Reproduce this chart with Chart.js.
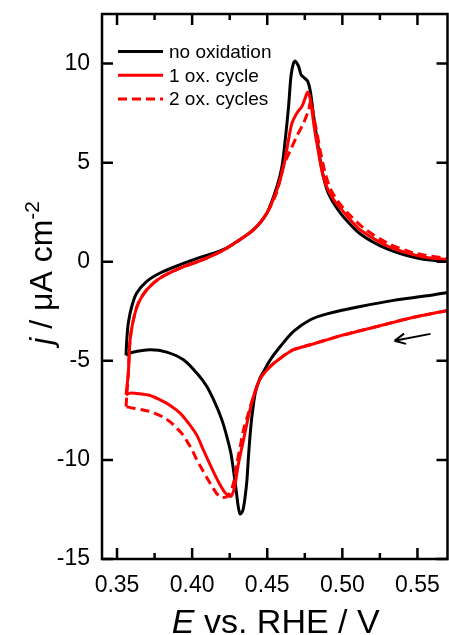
<!DOCTYPE html>
<html>
<head>
<meta charset="utf-8">
<script src="https://cdn.jsdelivr.net/npm/chart.js@4.4.1/dist/chart.umd.min.js"></script>
<style>
  html, body { margin: 0; padding: 0; background: #fff; overflow: hidden; }
  canvas { display: block; }
</style>
</head>
<body>
<canvas id="cvChart" width="449" height="635"></canvas>
<script>
// values: E in V vs. RHE, j in uA cm-2
// each loop: anodic sweep, null (turn outside the window), cathodic sweep
const seriesNames = ['no oxidation', '1 ox. cycle', '2 ox. cycles'];

const eNoOx = [0.356, 0.3565, 0.3575, 0.3598, 0.3631, 0.3698, 0.3787, 0.392, 0.4053, 0.4187,
  0.4275, 0.4409, 0.4498, 0.4565, 0.4598, 0.462, 0.4642, 0.4658, 0.4675, 0.4687,
  0.4709, 0.4725, 0.4747, 0.4769, 0.4787, 0.4809, 0.4825, 0.4842, 0.4858, 0.4875,
  0.4895, 0.492, 0.4955, 0.5009, 0.512, 0.5298, 0.552, 0.57,
  null,
  0.57, 0.5565, 0.5342, 0.512, 0.4898, 0.4787, 0.4675, 0.4587, 0.452, 0.4475,
  0.4453, 0.442, 0.4398, 0.4387, 0.4375, 0.4365, 0.4353, 0.4338, 0.432, 0.4307,
  0.4293, 0.4275, 0.4258, 0.4231, 0.4198, 0.4153, 0.4098, 0.4031, 0.3942, 0.3831,
  0.372, 0.3598, 0.356];
const jNoOx = [-4.72, -3.94, -3.10, -2.26, -1.58, -0.99, -0.57, -0.15, 0.22, 0.55,
  0.90, 1.62, 2.46, 3.80, 4.81, 6.16, 7.84, 9.36, 10.03, 10.12,
  9.86, 9.44, 9.28, 9.11, 8.60, 7.34, 6.50, 5.66, 4.90, 4.25,
  3.70, 3.25, 2.80, 2.25, 1.40, 0.65, 0.15, 0.02,
  null,
  -1.55, -1.72, -1.95, -2.26, -2.63, -2.93, -3.52, -4.28, -4.95, -5.55,
  -5.85, -6.63, -7.81, -8.65, -9.83, -11.01, -11.85, -12.53, -12.73, -12.36,
  -11.52, -10.51, -9.66, -8.82, -7.98, -7.14, -6.30, -5.62, -4.95, -4.56,
  -4.44, -4.58, -4.72];

const eOx1 = [0.356, 0.3575, 0.3587, 0.3609, 0.3642, 0.3698, 0.3787, 0.392, 0.4053, 0.4187,
  0.4275, 0.4409, 0.4498, 0.4565, 0.4609, 0.4642, 0.4665, 0.4698, 0.4731, 0.4753,
  0.4769, 0.4787, 0.4809, 0.4825, 0.4842, 0.4858, 0.4875, 0.4895, 0.492, 0.4955,
  0.4987, 0.506, 0.512, 0.5298, 0.552, 0.57,
  null,
  0.57, 0.5453, 0.5231, 0.5009, 0.4787, 0.4675, 0.4587, 0.452, 0.4453, 0.4409,
  0.4375, 0.4342, 0.4309, 0.4287, 0.4271, 0.4253, 0.4225, 0.4209, 0.4175, 0.4142,
  0.4108, 0.4075, 0.4031, 0.3976, 0.392, 0.3854, 0.3787, 0.372, 0.365, 0.3587,
  0.356];
const jOx1 = [-6.72, -5.62, -3.94, -2.93, -2.09, -1.41, -0.82, -0.32, 0.05, 0.50,
  0.90, 1.62, 2.46, 3.64, 4.81, 6.16, 7.00, 7.51, 7.84, 8.27,
  8.55, 8.18, 7.00, 6.20, 5.49, 4.80, 4.25, 3.80, 3.40, 3.00,
  2.70, 2.05, 1.60, 0.80, 0.27, 0.10,
  null,
  -2.46, -2.84, -3.27, -3.69, -4.19, -4.44, -4.87, -5.29, -5.90, -6.80,
  -7.81, -8.99, -10.17, -11.18, -11.68, -11.85, -11.70, -11.55, -11.10, -10.60,
  -10.05, -9.50, -8.75, -8.15, -7.64, -7.25, -6.97, -6.75, -6.66, -6.63,
  -6.72];

const eOx2 = [0.356, 0.3575, 0.3587, 0.3609, 0.3642, 0.3698, 0.3787, 0.392, 0.4053, 0.4187,
  0.4275, 0.4409, 0.4498, 0.4565, 0.4609, 0.4653, 0.4698, 0.4742, 0.4775, 0.479,
  0.481, 0.4831, 0.4848, 0.4865, 0.4885, 0.4909, 0.494, 0.4975, 0.5031, 0.5142,
  0.5298, 0.5475, 0.57,
  null,
  0.57, 0.5453, 0.5231, 0.5009, 0.4787, 0.4675, 0.4587, 0.452, 0.4453, 0.4409,
  0.4375, 0.4342, 0.432, 0.4298, 0.4275, 0.424, 0.42, 0.4164, 0.4142, 0.4098,
  0.4053, 0.4031, 0.40, 0.3965, 0.3935, 0.3898, 0.3854, 0.3809, 0.3742, 0.3698,
  0.3609, 0.356];
const jOx2 = [-7.31, -5.62, -3.94, -2.93, -2.09, -1.41, -0.82, -0.32, 0.05, 0.50,
  0.90, 1.62, 2.46, 3.55, 4.85, 5.60, 6.35, 7.00, 7.65, 8.10,
  7.30, 6.50, 5.80, 5.15, 4.50, 3.90, 3.40, 3.00, 2.50, 1.70,
  0.95, 0.45, 0.15,
  null,
  -2.46, -2.84, -3.27, -3.69, -4.19, -4.44, -4.87, -5.29, -5.90, -6.80,
  -7.64, -8.48, -9.33, -10.17, -11.18, -11.80, -11.90, -11.70, -11.45, -10.90,
  -10.30, -10.00, -9.50, -9.05, -8.70, -8.40, -8.08, -7.85, -7.62, -7.52,
  -7.39, -7.31];

const xTicks = [0.35, 0.40, 0.45, 0.50, 0.55];
const xMinor = [0.375, 0.425, 0.475, 0.525];
const yTicks = [-15, -10, -5, 0, 5, 10];

// sweep direction arrow, tail then head
const arrowE = [0.5587, 0.5347];
const arrowJ = [-3.64, -3.99];

const FONT = '"Liberation Sans", Arial, sans-serif';
Chart.defaults.font.family = FONT;
Chart.defaults.color = '#000';

const toXY = (e, j) => e.map((v, i) => ({ x: v, y: j[i] }));

// draws text made of pieces (italic / superscript) centred on cx
function richText(ctx, parts, size, cx, cy) {
  const fontOf = p => (p.it ? 'italic ' : '') + (p.sup ? size * 0.65 : size) + 'px ' + FONT;
  let total = 0;
  parts.forEach(p => { ctx.font = fontOf(p); p.w = ctx.measureText(p.t).width; total += p.w; });
  let x = cx - total / 2;
  parts.forEach(p => {
    ctx.font = fontOf(p);
    ctx.fillText(p.t, x, cy + (p.sup ? -size * 0.4 : 0));
    x += p.w;
  });
}

const decor = {
  id: 'decor',
  afterDraw(chart) {
    const { ctx, chartArea: a } = chart;
    const sx = chart.scales.x, sy = chart.scales.y;
    ctx.save();

    // frame + inward ticks on all four sides
    ctx.strokeStyle = '#000';
    ctx.lineWidth = 2.5;
    ctx.strokeRect(a.left, a.top, a.right - a.left, a.bottom - a.top);
    ctx.beginPath();
    const xt = (v, len) => {
      const px = sx.getPixelForValue(v);
      ctx.moveTo(px, a.bottom); ctx.lineTo(px, a.bottom - len);
      ctx.moveTo(px, a.top); ctx.lineTo(px, a.top + len);
    };
    xTicks.forEach(v => xt(v, 11));
    xMinor.forEach(v => xt(v, 6));
    yTicks.forEach(v => {
      const py = sy.getPixelForValue(v);
      ctx.moveTo(a.left, py); ctx.lineTo(a.left + 11, py);
      ctx.moveTo(a.right, py); ctx.lineTo(a.right - 11, py);
    });
    ctx.stroke();

    // legend inside the plot, top left
    ctx.font = '19px ' + FONT;
    ctx.textBaseline = 'middle';
    ctx.fillStyle = '#000';
    chart.data.datasets.forEach((ds, i) => {
      const ly = a.top + 37.5 + i * 23.8;
      ctx.beginPath();
      ctx.setLineDash(ds.borderDash || []);
      ctx.strokeStyle = ds.borderColor;
      ctx.lineWidth = 3;
      ctx.moveTo(a.left + 16, ly);
      ctx.lineTo(a.left + 61, ly);
      ctx.stroke();
      ctx.setLineDash([]);
      ctx.fillText(ds.label, a.left + 67, ly + 1);
    });

    // arrow
    const x0 = sx.getPixelForValue(arrowE[0]), y0 = sy.getPixelForValue(arrowJ[0]);
    const x1 = sx.getPixelForValue(arrowE[1]), y1 = sy.getPixelForValue(arrowJ[1]);
    const ang = Math.atan2(y1 - y0, x1 - x0);
    ctx.strokeStyle = '#000';
    ctx.lineWidth = 2;
    ctx.beginPath();
    ctx.moveTo(x0, y0); ctx.lineTo(x1, y1);
    [-1, 1].forEach(s => {
      ctx.moveTo(x1, y1);
      ctx.lineTo(x1 - 12 * Math.cos(ang + s * 0.45), y1 - 12 * Math.sin(ang + s * 0.45));
    });
    ctx.stroke();

    // axis titles
    ctx.textBaseline = 'alphabetic';
    ctx.textAlign = 'left';
    richText(ctx, [{ t: 'E', it: true }, { t: ' vs. RHE / V' }], 34, (a.left + a.right) / 2 + 1, a.bottom + 74);
    ctx.translate(52, a.top + 259);
    ctx.rotate(-Math.PI / 2);
    richText(ctx, [{ t: 'j', it: true }, { t: ' / \u03bcA cm' }, { t: '-2', sup: true }], 32, 0, 0);
    ctx.restore();
  }
};

new Chart(document.getElementById('cvChart'), {
  type: 'scatter',
  data: {
    datasets: [
      { label: seriesNames[0], data: toXY(eNoOx, jNoOx), borderColor: '#000000', order: 3 },
      { label: seriesNames[1], data: toXY(eOx1, jOx1), borderColor: '#ff0000', order: 2 },
      { label: seriesNames[2], data: toXY(eOx2, jOx2), borderColor: '#ff0000', borderDash: [9, 5], order: 1 }
    ].map(d => Object.assign(d, { showLine: true, pointRadius: 0, borderWidth: 3, tension: 0.3, fill: false }))
  },
  options: {
    responsive: false,
    animation: false,
    devicePixelRatio: 1,
    layout: { padding: { top: 14, right: 1.5, left: 0, bottom: 0 } },
    plugins: { legend: { display: false }, tooltip: { enabled: false } },
    scales: {
      x: {
        type: 'linear', min: 0.34, max: 0.57,
        grid: { display: false, drawTicks: false },
        border: { display: false },
        afterBuildTicks: s => { s.ticks = xTicks.map(v => ({ value: v })); },
        afterFit: s => { s.height = 76; s.paddingLeft = 0; s.paddingRight = 0; },
        ticks: { padding: 13, font: { size: 23 }, autoSkip: false, maxRotation: 0, callback: v => v.toFixed(2) }
      },
      y: {
        type: 'linear', min: -15, max: 12.5,
        grid: { display: false, drawTicks: false },
        border: { display: false },
        afterBuildTicks: s => { s.ticks = yTicks.map(v => ({ value: v })); },
        afterFit: s => { s.width = 102; s.paddingTop = 0; s.paddingBottom = 0; },
        ticks: { padding: 12, font: { size: 23 }, callback: v => String(v) }
      }
    }
  },
  plugins: [decor]
});
</script>
</body>
</html>
